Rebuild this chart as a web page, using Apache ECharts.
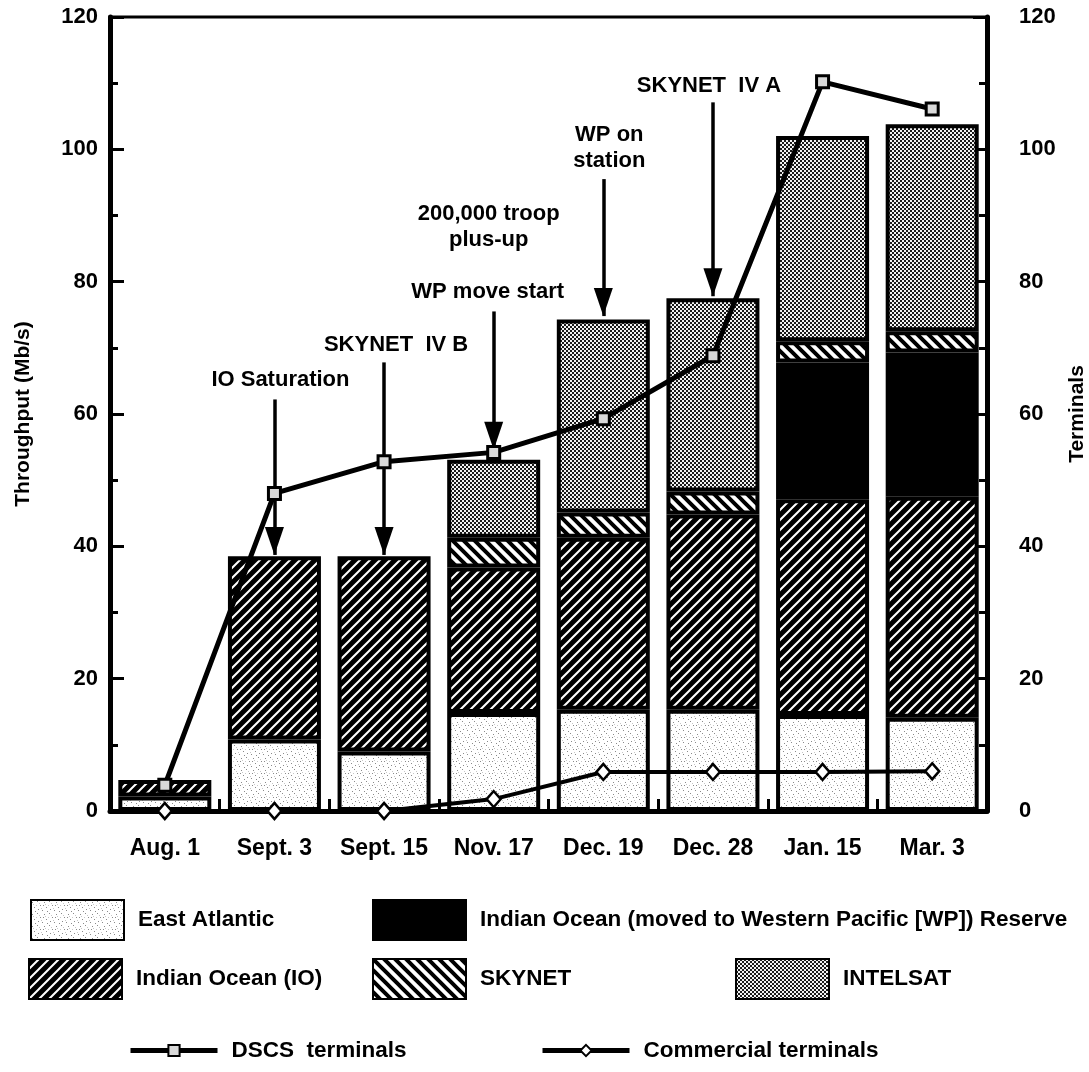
<!DOCTYPE html>
<html>
<head>
<meta charset="utf-8">
<script src="https://cdn.jsdelivr.net/npm/echarts@6/dist/echarts.min.js"></script>
<style>
html,body{margin:0;padding:0;background:#fff;}
#chart{width:1089px;height:1072px;}
</style>
</head>
<body>
<div id="chart"></div>
<script>
// ---------- data ----------
const categories = ['Aug. 1', 'Sept. 3', 'Sept. 15', 'Nov. 17', 'Dec. 19', 'Dec. 28', 'Jan. 15', 'Mar. 3'];
const eastAtlantic = [2.2, 10.8, 9.0, 14.8, 15.3, 15.3, 14.5, 14.1];
const indianOcean = [2.5, 27.7, 29.5, 22.0, 26.0, 29.5, 32.6, 33.4];
const ioReserve = ['-', '-', '-', '-', '-', '-', 20.7, 21.8];
const skynet = ['-', '-', '-', 4.5, 3.8, 3.5, 3.2, 3.2];
const intelsat = ['-', '-', '-', 11.8, 29.2, 29.2, 31.0, 31.3];
const dscsTerminals = [3.9, 48.0, 52.8, 54.2, 59.3, 68.8, 110.2, 106.1];
const commercialTerminals = [0, 0, 0, 1.8, 5.9, 5.9, 5.9, 6.0];
const axisMin = 0, axisMax = 120, axisInterval = 20;

const annotationTexts = ['IO Saturation', 'SKYNET  IV B', 'WP move start', '200,000 troop\nplus-up', 'WP on\nstation', 'SKYNET  IV A'];
const annotationCategory = [1, 2, 3, 3, 4, 5];
const annotationTextY = [65.1, 70.5, 78.4, 88.2, 100.2, 109.6];
const arrowCategory = [1, 2, 3, 4, 5];
const arrowFrom = [62.2, 67.8, 75.5, 95.5, 107.1];
const arrowTo = [38.7, 38.7, 54.6, 74.8, 77.8];

// ---------- styles ----------
const annotationOffsetX = [6, 12, -6, -5, 6, -4];
const FONT = '"Liberation Sans", Arial, Helvetica, sans-serif';

function tile(w, h, draw) {
  const c = document.createElement('canvas');
  c.width = w; c.height = h;
  const ctx = c.getContext('2d');
  draw(ctx, w, h);
  return { image: c, repeat: 'repeat' };
}
const patEA = tile(12, 12, (ctx, w, h) => {
  ctx.fillStyle = '#fff'; ctx.fillRect(0, 0, w, h);
  ctx.fillStyle = '#8a8a8a';
  [[1,2],[6,1],[9,5],[3,7],[7,9],[11,10],[4,11],[0,5]].forEach(p => ctx.fillRect(p[0], p[1], 1, 1));
  ctx.fillStyle = '#c8c8c8';
  [[2,4],[8,3],[10,8],[5,5]].forEach(p => ctx.fillRect(p[0], p[1], 1, 1));
});
const patIO = tile(10, 10, (ctx, w, h) => {
  ctx.fillStyle = '#000'; ctx.fillRect(0, 0, w, h);
  ctx.strokeStyle = '#fff'; ctx.lineWidth = 2;
  ctx.beginPath();
  ctx.moveTo(-2, 12); ctx.lineTo(12, -2);
  ctx.moveTo(-7, 7); ctx.lineTo(7, -7);
  ctx.moveTo(3, 17); ctx.lineTo(17, 3);
  ctx.stroke();
});
const patSky = tile(11, 11, (ctx, w, h) => {
  ctx.fillStyle = '#fff'; ctx.fillRect(0, 0, w, h);
  ctx.strokeStyle = '#000'; ctx.lineWidth = 4;
  ctx.beginPath();
  ctx.moveTo(-2, -2); ctx.lineTo(13, 13);
  ctx.moveTo(-13, -2); ctx.lineTo(2, 13);
  ctx.moveTo(9, -2); ctx.lineTo(24, 13);
  ctx.stroke();
});
const patIntel = tile(4, 4, (ctx, w, h) => {
  ctx.fillStyle = '#f2f2f2'; ctx.fillRect(0, 0, w, h);
  ctx.fillStyle = '#1a1a1a';
  ctx.fillRect(0, 0, 2, 2); ctx.fillRect(2, 2, 2, 2);
});

const barBorder = { borderColor: '#000', borderWidth: 4 };
function barSeries(name, data, pattern) {
  return {
    name: name, type: 'bar', stack: 'total', yAxisIndex: 0, barWidth: 93,
    data: data, itemStyle: Object.assign({ color: pattern }, barBorder), z: 2
  };
}

const textStyle = { fontFamily: FONT, fontWeight: 'bold', color: '#000' };

const annotationData = annotationTexts.map((t, i) => ({
  value: [categories[annotationCategory[i]], annotationTextY[i]],
  label: { offset: [annotationOffsetX[i], 0] }
}));
const arrowData = arrowCategory.map((c, i) => [
  { coord: [categories[c], arrowFrom[i]] },
  { coord: [categories[c], arrowTo[i]] }
]);

const legendText = Object.assign({ fontSize: 22.5, padding: [0, 0, 0, 9] }, textStyle);
function legendAt(name, left, top, isLine) {
  const l = {
    data: [name], left: left, top: top, padding: 0, orient: 'horizontal',
    textStyle: legendText, selectedMode: false
  };
  if (isLine) { l.itemWidth = 87; l.itemHeight = 14; l.lineStyle = { width: 5, color: '#000' }; }
  else { l.itemWidth = 93; l.itemHeight = 40; l.icon = 'rect'; }
  return l;
}

const yAxisCommon = {
  type: 'value', min: axisMin, max: axisMax, interval: axisInterval,
  axisLine: { show: true, lineStyle: { color: '#000', width: 5 } },
  axisTick: { show: true, inside: true, length: 14, lineStyle: { color: '#000', width: 3 } },
  minorTick: { show: true, splitNumber: 2, length: 8, lineStyle: { color: '#000', width: 3 } },
  splitLine: { show: false },
  nameLocation: 'middle',
  nameTextStyle: Object.assign({ fontSize: 21 }, textStyle),
  axisLabel: Object.assign({ fontSize: 22 }, textStyle)
};

const option = {
  animation: false,
  backgroundColor: '#fff',
  grid: { left: 110, right: 102, top: 17, bottom: 261, show: true, borderColor: '#000', borderWidth: 3,
          containLabel: false, outerBoundsMode: 'none' },
  xAxis: {
    type: 'category', data: categories, boundaryGap: true,
    axisLine: { lineStyle: { color: '#000', width: 5 } },
    axisTick: { show: true, inside: true, length: 12, lineStyle: { color: '#000', width: 3 } },
    axisLabel: Object.assign({ fontSize: 23, margin: 26, interval: 0 }, textStyle)
  },
  yAxis: [
    Object.assign({}, yAxisCommon, { position: 'left', name: 'Throughput (Mb/s)', nameGap: 76, nameRotate: 90,
      axisLabel: Object.assign({}, yAxisCommon.axisLabel, { margin: 12 }) }),
    Object.assign({}, yAxisCommon, { position: 'right', name: 'Terminals', nameGap: 76, nameRotate: 90,
      axisLabel: Object.assign({}, yAxisCommon.axisLabel, { margin: 32 }) })
  ],
  legend: [
    legendAt('East Atlantic', 30, 899, false),
    legendAt('Indian Ocean (moved to Western Pacific [WP]) Reserve', 372, 899, false),
    legendAt('Indian Ocean (IO)', 28, 958, false),
    legendAt('SKYNET', 372, 958, false),
    legendAt('INTELSAT', 735, 958, false),
    legendAt('DSCS  terminals', 128, 1039, true),
    legendAt('Commercial terminals', 540, 1039, true)
  ],
  series: [
    barSeries('East Atlantic', eastAtlantic, patEA),
    barSeries('Indian Ocean (IO)', indianOcean, patIO),
    barSeries('Indian Ocean (moved to Western Pacific [WP]) Reserve', ioReserve, '#000'),
    barSeries('SKYNET', skynet, patSky),
    barSeries('INTELSAT', intelsat, patIntel),
    {
      name: 'DSCS  terminals', type: 'line', yAxisIndex: 1, data: dscsTerminals, z: 5,
      symbol: 'rect', symbolSize: 12, showAllSymbol: true,
      lineStyle: { color: '#000', width: 5 },
      itemStyle: { color: '#d9d9d9', borderColor: '#000', borderWidth: 3 }
    },
    {
      name: 'Commercial terminals', type: 'line', yAxisIndex: 1, data: commercialTerminals, z: 5,
      symbol: 'diamond', symbolSize: [14, 16], showAllSymbol: true,
      lineStyle: { color: '#000', width: 4 },
      itemStyle: { color: '#fff', borderColor: '#000', borderWidth: 2.5 }
    },
    {
      name: 'annotations', type: 'scatter', yAxisIndex: 0, z: 6, silent: true,
      symbolSize: 0, itemStyle: { color: '#000', opacity: 1 },
      data: annotationData,
      label: Object.assign({
        show: true, position: 'inside', fontSize: 22, lineHeight: 26, align: 'center', verticalAlign: 'middle',
        opacity: 1, textBorderWidth: 0,
        formatter: p => annotationTexts[p.dataIndex]
      }, textStyle),
      markLine: {
        silent: true, symbol: ['none', 'triangle'], symbolSize: [19, 28], symbolOffset: [0, [0, 14]],
        label: { show: false },
        lineStyle: { color: '#000', width: 3.5, type: 'solid', opacity: 1 },
        data: arrowData
      }
    }
  ]
};

const chart = echarts.init(document.getElementById('chart'), null, { renderer: 'canvas' });
chart.setOption(option);
</script>
</body>
</html>
